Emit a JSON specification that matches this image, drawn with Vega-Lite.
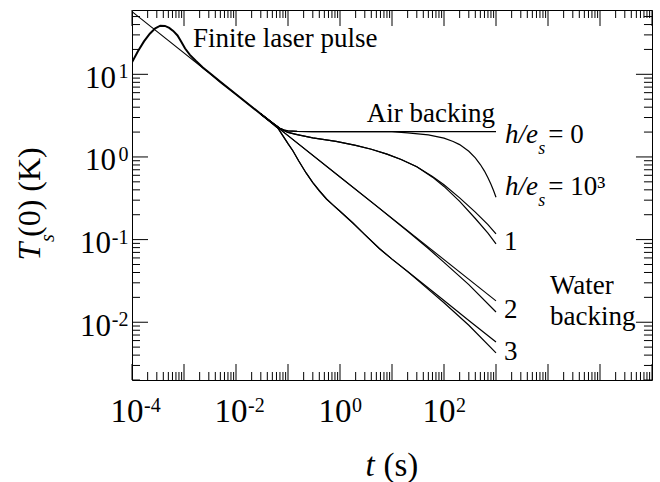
{
  "$schema": "https://vega.github.io/schema/vega-lite/v6.json",
  "width": 520,
  "height": 370,
  "autosize": {"type": "none"},
  "padding": {"left": 132, "top": 10, "right": 8, "bottom": 102},
  "background": "white",
  "config": {
    "view": {"stroke": "black", "strokeWidth": 1},
    "axis": {"domain": false, "grid": false, "labelColor": "black", "titleColor": "black", "labelOverlap": false, "labelFlush": false, "labelFont": "Liberation Serif", "titleFont": "Liberation Serif", "titleFontWeight": "normal"}
  },
  "datasets": {
    "curves": [
      {"series": "L", "t": 0.0001, "T": 57.27},
      {"series": "L", "t": 1000, "T": 0.01811},
      {"series": "pulse", "t": 0.0001, "T": 14},
      {"series": "pulse", "t": 0.00013, "T": 19},
      {"series": "pulse", "t": 0.00017, "T": 25},
      {"series": "pulse", "t": 0.00022, "T": 31},
      {"series": "pulse", "t": 0.00028, "T": 36},
      {"series": "pulse", "t": 0.00035, "T": 38.8},
      {"series": "pulse", "t": 0.00043, "T": 38.5},
      {"series": "pulse", "t": 0.00052, "T": 36.5},
      {"series": "pulse", "t": 0.00062, "T": 33.5},
      {"series": "pulse", "t": 0.00075, "T": 29.5},
      {"series": "pulse", "t": 0.00088, "T": 25},
      {"series": "pulse", "t": 0.00105, "T": 20.5},
      {"series": "pulse", "t": 0.0013, "T": 17.2},
      {"series": "pulse", "t": 0.0017, "T": 14.5},
      {"series": "pulse", "t": 0.0023, "T": 12.1},
      {"series": "pulse", "t": 0.0032, "T": 10.2},
      {"series": "pulse", "t": 0.005, "T": 8.1},
      {"series": "pulse", "t": 0.01, "T": 5.73},
      {"series": "pulse", "t": 0.03, "T": 3.31},
      {"series": "pulse", "t": 0.069, "T": 2.18},
      {"series": "air", "t": 0.03, "T": 3.31},
      {"series": "air", "t": 0.05, "T": 2.58},
      {"series": "air", "t": 0.06, "T": 2.38},
      {"series": "air", "t": 0.07, "T": 2.22},
      {"series": "air", "t": 0.085, "T": 2.11},
      {"series": "air", "t": 0.1, "T": 2.07},
      {"series": "air", "t": 0.15, "T": 2.04},
      {"series": "air", "t": 0.3, "T": 2.03},
      {"series": "air", "t": 1000, "T": 2.03},
      {"series": "h3", "t": 0.03, "T": 3.31},
      {"series": "h3", "t": 0.05, "T": 2.58},
      {"series": "h3", "t": 0.06, "T": 2.38},
      {"series": "h3", "t": 0.07, "T": 2.22},
      {"series": "h3", "t": 0.085, "T": 2.11},
      {"series": "h3", "t": 0.1, "T": 2.07},
      {"series": "h3", "t": 0.15, "T": 2.04},
      {"series": "h3", "t": 0.3, "T": 2.03},
      {"series": "h3", "t": 10, "T": 2.03},
      {"series": "h3", "t": 20, "T": 1.96},
      {"series": "h3", "t": 50, "T": 1.85},
      {"series": "h3", "t": 100, "T": 1.69},
      {"series": "h3", "t": 150, "T": 1.54},
      {"series": "h3", "t": 200, "T": 1.41},
      {"series": "h3", "t": 300, "T": 1.17},
      {"series": "h3", "t": 400, "T": 0.975},
      {"series": "h3", "t": 500, "T": 0.81},
      {"series": "h3", "t": 600, "T": 0.675},
      {"series": "h3", "t": 700, "T": 0.56},
      {"series": "h3", "t": 800, "T": 0.468},
      {"series": "h3", "t": 900, "T": 0.39},
      {"series": "h3", "t": 1000, "T": 0.325},
      {"series": "c1a", "t": 0.03, "T": 3.31},
      {"series": "c1a", "t": 0.05, "T": 2.6},
      {"series": "c1a", "t": 0.07, "T": 2.2},
      {"series": "c1a", "t": 0.1, "T": 1.98},
      {"series": "c1a", "t": 0.15, "T": 1.86},
      {"series": "c1a", "t": 0.3, "T": 1.7},
      {"series": "c1a", "t": 0.84, "T": 1.54},
      {"series": "c1a", "t": 2, "T": 1.38},
      {"series": "c1a", "t": 4, "T": 1.24},
      {"series": "c1a", "t": 8, "T": 1.08},
      {"series": "c1a", "t": 15, "T": 0.93},
      {"series": "c1a", "t": 30, "T": 0.76},
      {"series": "c1a", "t": 60, "T": 0.58},
      {"series": "c1a", "t": 100, "T": 0.46},
      {"series": "c1a", "t": 200, "T": 0.32},
      {"series": "c1a", "t": 400, "T": 0.215},
      {"series": "c1a", "t": 700, "T": 0.152},
      {"series": "c1a", "t": 1000, "T": 0.117},
      {"series": "c1b", "t": 0.03, "T": 3.31},
      {"series": "c1b", "t": 0.05, "T": 2.6},
      {"series": "c1b", "t": 0.07, "T": 2.2},
      {"series": "c1b", "t": 0.1, "T": 1.98},
      {"series": "c1b", "t": 0.15, "T": 1.86},
      {"series": "c1b", "t": 0.3, "T": 1.7},
      {"series": "c1b", "t": 0.84, "T": 1.54},
      {"series": "c1b", "t": 2, "T": 1.38},
      {"series": "c1b", "t": 4, "T": 1.24},
      {"series": "c1b", "t": 8, "T": 1.08},
      {"series": "c1b", "t": 15, "T": 0.93},
      {"series": "c1b", "t": 30, "T": 0.76},
      {"series": "c1b", "t": 60, "T": 0.57},
      {"series": "c1b", "t": 100, "T": 0.44},
      {"series": "c1b", "t": 200, "T": 0.29},
      {"series": "c1b", "t": 400, "T": 0.18},
      {"series": "c1b", "t": 700, "T": 0.12},
      {"series": "c1b", "t": 1000, "T": 0.0886},
      {"series": "c2b", "t": 0.03, "T": 3.31},
      {"series": "c2b", "t": 0.1, "T": 1.81},
      {"series": "c2b", "t": 1, "T": 0.5727},
      {"series": "c2b", "t": 5, "T": 0.256},
      {"series": "c2b", "t": 20, "T": 0.126},
      {"series": "c2b", "t": 50, "T": 0.078},
      {"series": "c2b", "t": 100, "T": 0.053},
      {"series": "c2b", "t": 300, "T": 0.0285},
      {"series": "c2b", "t": 1000, "T": 0.0133},
      {"series": "c3a", "t": 0.03, "T": 3.31},
      {"series": "c3a", "t": 0.05, "T": 2.56},
      {"series": "c3a", "t": 0.065, "T": 2.2},
      {"series": "c3a", "t": 0.08, "T": 1.8},
      {"series": "c3a", "t": 0.1, "T": 1.45},
      {"series": "c3a", "t": 0.124, "T": 1.19},
      {"series": "c3a", "t": 0.16, "T": 0.9},
      {"series": "c3a", "t": 0.223, "T": 0.64},
      {"series": "c3a", "t": 0.3, "T": 0.49},
      {"series": "c3a", "t": 0.4, "T": 0.39},
      {"series": "c3a", "t": 0.55, "T": 0.31},
      {"series": "c3a", "t": 0.72, "T": 0.265},
      {"series": "c3a", "t": 1, "T": 0.22},
      {"series": "c3a", "t": 1.75, "T": 0.16},
      {"series": "c3a", "t": 3, "T": 0.115},
      {"series": "c3a", "t": 5.7, "T": 0.078},
      {"series": "c3a", "t": 10, "T": 0.058},
      {"series": "c3a", "t": 20, "T": 0.041},
      {"series": "c3a", "t": 50, "T": 0.026},
      {"series": "c3a", "t": 100, "T": 0.0183},
      {"series": "c3a", "t": 300, "T": 0.0105},
      {"series": "c3a", "t": 1000, "T": 0.00577},
      {"series": "c3b", "t": 0.03, "T": 3.31},
      {"series": "c3b", "t": 0.05, "T": 2.56},
      {"series": "c3b", "t": 0.065, "T": 2.2},
      {"series": "c3b", "t": 0.08, "T": 1.8},
      {"series": "c3b", "t": 0.1, "T": 1.45},
      {"series": "c3b", "t": 0.124, "T": 1.19},
      {"series": "c3b", "t": 0.16, "T": 0.9},
      {"series": "c3b", "t": 0.223, "T": 0.64},
      {"series": "c3b", "t": 0.3, "T": 0.49},
      {"series": "c3b", "t": 0.4, "T": 0.39},
      {"series": "c3b", "t": 0.55, "T": 0.31},
      {"series": "c3b", "t": 0.72, "T": 0.265},
      {"series": "c3b", "t": 1, "T": 0.22},
      {"series": "c3b", "t": 1.75, "T": 0.16},
      {"series": "c3b", "t": 3, "T": 0.115},
      {"series": "c3b", "t": 5.7, "T": 0.078},
      {"series": "c3b", "t": 10, "T": 0.058},
      {"series": "c3b", "t": 20, "T": 0.041},
      {"series": "c3b", "t": 50, "T": 0.025},
      {"series": "c3b", "t": 100, "T": 0.0172},
      {"series": "c3b", "t": 300, "T": 0.0092},
      {"series": "c3b", "t": 1000, "T": 0.00425}
    ],
    "regularText": [
      {"label": "Finite laser pulse", "t": 0.00149, "T": 21.4},
      {"label": "Air backing", "t": 3.26, "T": 2.67},
      {"label": "= 0", "t": 10140, "T": 1.463},
      {"label": "= 10³", "t": 10140, "T": 0.3464},
      {"label": "1", "t": 1426, "T": 0.0748},
      {"label": "2", "t": 1426, "T": 0.01115},
      {"label": "3", "t": 1426, "T": 0.00349},
      {"label": "Water", "t": 10920, "T": 0.02178},
      {"label": "backing", "t": 10920, "T": 0.00926}
    ],
    "italicText": [
      {"label": "h/e", "t": 1489, "T": 1.463},
      {"label": "h/e", "t": 1489, "T": 0.3464}
    ],
    "subText": [
      {"label": "s", "t": 6506, "T": 1.077},
      {"label": "s", "t": 6506, "T": 0.2549}
    ],
    "xMajor": [{"v": 0.0001}, {"v": 0.001}, {"v": 0.01}, {"v": 0.1}, {"v": 1}, {"v": 10}, {"v": 100}, {"v": 1000}, {"v": 10000}, {"v": 100000}, {"v": 1000000}],
    "xMinor": [{"v":0.0002},{"v":0.0003},{"v":0.0004},{"v":0.0005},{"v":0.0006},{"v":0.0007},{"v":0.0008},{"v":0.0009},
               {"v":0.002},{"v":0.003},{"v":0.004},{"v":0.005},{"v":0.006},{"v":0.007},{"v":0.008},{"v":0.009},
               {"v":0.02},{"v":0.03},{"v":0.04},{"v":0.05},{"v":0.06},{"v":0.07},{"v":0.08},{"v":0.09},
               {"v":0.2},{"v":0.3},{"v":0.4},{"v":0.5},{"v":0.6},{"v":0.7},{"v":0.8},{"v":0.9},
               {"v":2},{"v":3},{"v":4},{"v":5},{"v":6},{"v":7},{"v":8},{"v":9},
               {"v":20},{"v":30},{"v":40},{"v":50},{"v":60},{"v":70},{"v":80},{"v":90},
               {"v":200},{"v":300},{"v":400},{"v":500},{"v":600},{"v":700},{"v":800},{"v":900},
               {"v":2000},{"v":3000},{"v":4000},{"v":5000},{"v":6000},{"v":7000},{"v":8000},{"v":9000},
               {"v":20000},{"v":30000},{"v":40000},{"v":50000},{"v":60000},{"v":70000},{"v":80000},{"v":90000},
               {"v":200000},{"v":300000},{"v":400000},{"v":500000},{"v":600000},{"v":700000},{"v":800000},{"v":900000}],
    "yMajor": [{"v": 0.01}, {"v": 0.1}, {"v": 1}, {"v": 10}],
    "yMinor": [{"v":0.002},{"v":0.003},{"v":0.004},{"v":0.005},{"v":0.006},{"v":0.007},{"v":0.008},{"v":0.009},
               {"v":0.02},{"v":0.03},{"v":0.04},{"v":0.05},{"v":0.06},{"v":0.07},{"v":0.08},{"v":0.09},
               {"v":0.2},{"v":0.3},{"v":0.4},{"v":0.5},{"v":0.6},{"v":0.7},{"v":0.8},{"v":0.9},
               {"v":2},{"v":3},{"v":4},{"v":5},{"v":6},{"v":7},{"v":8},{"v":9},
               {"v":20},{"v":30},{"v":40},{"v":50}]
  },
  "resolve": {"axis": {"x": "independent", "y": "independent"}},
  "layer": [
    {
      "data": {"name": "curves"},
      "transform": [{"filter": "datum.series != 'pulse' && datum.series != 'L' && datum.series != 'air'"}],
      "mark": {"type": "line", "color": "black", "strokeWidth": 1.2, "clip": true},
      "encoding": {
        "x": {"field": "t", "type": "quantitative",
              "scale": {"type": "log", "domain": [0.0001, 1000000], "nice": false},
              "axis": {"orient": "bottom", "values": [0.0001, 0.01, 1, 100], "ticks": false, "labels": true,
                       "labelExpr": "'10'", "labelAlign": "right", "labelBaseline": "alphabetic", "labelOffset": 11, "labelPadding": 41.7, "labelFontSize": 33,
                       "title": "t", "titleFontStyle": "italic", "titleFontSize": 33, "titleAlign": "left", "titleBaseline": "alphabetic", "titleX": 233, "titleY": 95}},
        "y": {"field": "T", "type": "quantitative",
              "scale": {"type": "log", "domain": [0.002, 60], "nice": false},
              "axis": {"orient": "left", "values": [1, 10], "ticks": false, "labels": true,
                       "labelExpr": "'10'", "labelAlign": "right", "labelBaseline": "alphabetic", "labelOffset": 13, "labelPadding": 16.5, "labelFontSize": 31,
                       "title": "T", "titleFontStyle": "italic", "titleFontSize": 32, "titleAngle": -90, "titleAlign": "left", "titleBaseline": "alphabetic", "titleX": -93, "titleY": 250}},
        "detail": {"field": "series", "type": "nominal"}
      }
    },
    {
      "data": {"name": "curves"},
      "transform": [{"filter": "datum.series == 'L'"}],
      "mark": {"type": "line", "color": "black", "strokeWidth": 1.1, "clip": true},
      "encoding": {
        "x": {"field": "t", "type": "quantitative",
              "axis": {"orient": "bottom", "values": [0.0001, 0.01, 1, 100], "ticks": false, "labels": true,
                       "labelExpr": "datum.value < 0.001 ? '-4' : datum.value < 0.1 ? '-2' : datum.value < 10 ? '0' : '2'",
                       "labelAlign": "left", "labelBaseline": "alphabetic", "labelOffset": 11.5, "labelPadding": 31.7, "labelFontSize": 20,
                       "title": "(s)", "titleFontSize": 33, "titleAlign": "left", "titleBaseline": "alphabetic", "titleX": 251, "titleY": 95}},
        "y": {"field": "T", "type": "quantitative",
              "axis": {"orient": "left", "values": [0.01, 0.1], "ticks": false, "labels": true,
                       "labelExpr": "'10'", "labelAlign": "right", "labelBaseline": "alphabetic", "labelOffset": 13, "labelPadding": 21.5, "labelFontSize": 31,
                       "title": "s", "titleFontStyle": "italic", "titleFontSize": 20, "titleAngle": -90, "titleAlign": "left", "titleBaseline": "alphabetic", "titleX": -79, "titleY": 231.5}}
      }
    },
    {
      "data": {"name": "curves"},
      "transform": [{"filter": "datum.series == 'pulse'"}],
      "mark": {"type": "line", "color": "black", "strokeWidth": 2, "clip": true},
      "encoding": {
        "x": {"field": "t", "type": "quantitative", "axis": null},
        "y": {"field": "T", "type": "quantitative",
              "axis": {"orient": "left", "values": [0.01, 0.1, 1, 10], "ticks": false, "labels": true,
                       "labelExpr": "datum.value < 0.05 ? '-2' : datum.value < 0.5 ? '-1' : datum.value < 5 ? '0' : '1'",
                       "labelAlign": "right", "labelBaseline": "alphabetic", "labelOffset": 3.5, "labelPadding": 4, "labelFontSize": 20,
                       "title": "(0) (K)", "titleFontSize": 32, "titleAngle": -90, "titleAlign": "left", "titleBaseline": "alphabetic", "titleX": -93, "titleY": 226.5}}
      }
    },
    {
      "data": {"name": "curves"},
      "transform": [{"filter": "datum.series == 'air'"}],
      "mark": {"type": "line", "color": "black", "strokeWidth": 1.2, "clip": true},
      "encoding": {
        "x": {"field": "t", "type": "quantitative", "axis": null},
        "y": {"field": "T", "type": "quantitative", "axis": null}
      }
    },
    {
      "data": {"name": "regularText"},
      "mark": {"type": "text", "align": "left", "baseline": "alphabetic", "font": "Liberation Serif", "fontSize": 27, "color": "black"},
      "encoding": {
        "x": {"field": "t", "type": "quantitative", "axis": null},
        "y": {"field": "T", "type": "quantitative", "axis": null},
        "text": {"field": "label", "type": "nominal"}
      }
    },
    {
      "data": {"name": "italicText"},
      "mark": {"type": "text", "align": "left", "baseline": "alphabetic", "font": "Liberation Serif", "fontStyle": "italic", "fontSize": 27, "color": "black"},
      "encoding": {
        "x": {"field": "t", "type": "quantitative", "axis": null},
        "y": {"field": "T", "type": "quantitative", "axis": null},
        "text": {"field": "label", "type": "nominal"}
      }
    },
    {
      "data": {"name": "subText"},
      "mark": {"type": "text", "align": "left", "baseline": "alphabetic", "font": "Liberation Serif", "fontStyle": "italic", "fontSize": 18, "color": "black"},
      "encoding": {
        "x": {"field": "t", "type": "quantitative", "axis": null},
        "y": {"field": "T", "type": "quantitative", "axis": null},
        "text": {"field": "label", "type": "nominal"}
      }
    },
    {
      "data": {"name": "xMajor"},
      "mark": {"type": "tick", "orient": "vertical", "color": "black", "opacity": 1, "thickness": 1, "yOffset": -8},
      "encoding": {
        "x": {"field": "v", "type": "quantitative", "axis": null},
        "y": {"datum": 0.002, "type": "quantitative", "axis": null},
        "size": {"value": 16}
      }
    },
    {
      "data": {"name": "xMinor"},
      "mark": {"type": "tick", "orient": "vertical", "color": "black", "opacity": 1, "thickness": 1, "yOffset": -4},
      "encoding": {
        "x": {"field": "v", "type": "quantitative", "axis": null},
        "y": {"datum": 0.002, "type": "quantitative", "axis": null},
        "size": {"value": 8}
      }
    },
    {
      "data": {"name": "xMajor"},
      "mark": {"type": "rule", "color": "black", "opacity": 1, "strokeWidth": 1},
      "encoding": {
        "x": {"field": "v", "type": "quantitative", "axis": null},
        "y": {"datum": 60, "type": "quantitative", "axis": null},
        "y2": {"datum": 38.4}
      }
    },
    {
      "data": {"name": "xMinor"},
      "mark": {"type": "rule", "color": "black", "opacity": 1, "strokeWidth": 1},
      "encoding": {
        "x": {"field": "v", "type": "quantitative", "axis": null},
        "y": {"datum": 60, "type": "quantitative", "axis": null},
        "y2": {"datum": 48}
      }
    },
    {
      "data": {"name": "yMajor"},
      "mark": {"type": "tick", "orient": "horizontal", "color": "black", "opacity": 1, "thickness": 1, "xOffset": 8},
      "encoding": {
        "y": {"field": "v", "type": "quantitative", "axis": null},
        "x": {"datum": 0.0001, "type": "quantitative", "axis": null},
        "size": {"value": 16}
      }
    },
    {
      "data": {"name": "yMinor"},
      "mark": {"type": "tick", "orient": "horizontal", "color": "black", "opacity": 1, "thickness": 1, "xOffset": 4},
      "encoding": {
        "y": {"field": "v", "type": "quantitative", "axis": null},
        "x": {"datum": 0.0001, "type": "quantitative", "axis": null},
        "size": {"value": 8}
      }
    },
    {
      "data": {"name": "yMajor"},
      "mark": {"type": "rule", "color": "black", "opacity": 1, "strokeWidth": 1},
      "encoding": {
        "y": {"field": "v", "type": "quantitative", "axis": null},
        "x": {"datum": 1000000, "type": "quantitative", "axis": null},
        "x2": {"datum": 492000}
      }
    },
    {
      "data": {"name": "yMinor"},
      "mark": {"type": "rule", "color": "black", "opacity": 1, "strokeWidth": 1},
      "encoding": {
        "y": {"field": "v", "type": "quantitative", "axis": null},
        "x": {"datum": 1000000, "type": "quantitative", "axis": null},
        "x2": {"datum": 701000}
      }
    }
  ]
}
